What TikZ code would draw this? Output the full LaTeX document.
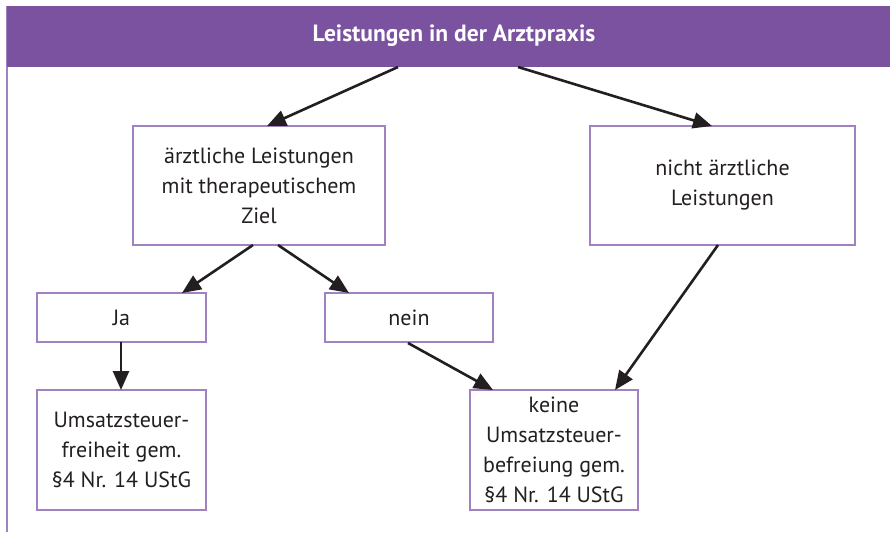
\documentclass[tikz,border=0pt]{standalone}
\usepackage{fontspec}
\setmainfont{PT Sans}
\usetikzlibrary{arrows.meta}
\definecolor{barpurple}{RGB}{123,82,160}
\definecolor{boxpurple}{RGB}{160,130,195}
\definecolor{txt}{RGB}{35,31,32}
\tikzset{
  box/.style={draw=boxpurple, line width=1.4pt, fill=white, align=center,
    inner sep=0pt, font=\fontsize{22}{30}\selectfont, text=txt},
  arr/.style={draw=txt, line width=2.6pt, -{Triangle[length=19pt,width=16pt]}},
}
\begin{document}
\begin{tikzpicture}[x=1pt,y=-1pt]
\useasboundingbox (0,0) rectangle (890,532);
\fill[white] (0,0) rectangle (890,532);
% frame
\draw[boxpurple, line width=1.4pt] (7,6) -- (7,532);
\node[fill=barpurple, minimum width=883pt, minimum height=61pt, inner sep=0pt, anchor=north west] (title) at (7,6) {};
\node[text=white, font=\bfseries\fontsize{23.5}{28}\selectfont] (tt) at (454,36) {Leistungen in der Arztpraxis};
% boxes
\node[box, minimum width=252pt, minimum height=119pt] (b1) at (259,185.5) {ärztliche Leistungen\\mit therapeutischem\\Ziel};
\node[box, minimum width=265pt, minimum height=119pt] (b2) at (722.5,185.5) {nicht ärztliche\\Leistungen};
\node[box, minimum width=169pt, minimum height=49pt] (ja) at (121.5,317.5) {Ja};
\node[box, minimum width=168pt, minimum height=49pt] (nein) at (409,317.5) {nein};
\node[box, minimum width=169pt, minimum height=120pt] (frei) at (121.5,450) {Umsatzsteuer-\\freiheit gem.\\§4 Nr. 14 UStG};
\node[box, minimum width=168pt, minimum height=120pt] (keine) at (554,450) {keine\\Umsatzsteuer-\\befreiung gem.\\§4 Nr. 14 UStG};
% connector points
\coordinate (t1) at (398,67);
\coordinate (t2) at (518,67);
\coordinate (b1in) at (267,126);
\coordinate (b2in) at (712,126);
\coordinate (b1a) at (253,245);
\coordinate (b1b) at (278,245);
\coordinate (jain) at (182,293);
\coordinate (neinin) at (349,293);
\coordinate (neinout) at (408,343);
\coordinate (kin1) at (493,390);
\coordinate (b2out) at (718,245);
\coordinate (kin2) at (615,390);
\coordinate (jaout) at (121,342);
\coordinate (freiin) at (121,390);
% arrows
\draw[arr] (t1) -- (b1in);
\draw[arr] (t2) -- (b2in);
\draw[arr] (b1a) -- (jain);
\draw[arr] (b1b) -- (neinin);
\draw[arr] (jaout) -- (freiin);
\draw[arr] (neinout) -- (kin1);
\draw[arr] (b2out) -- (kin2);
\end{tikzpicture}
\end{document}
